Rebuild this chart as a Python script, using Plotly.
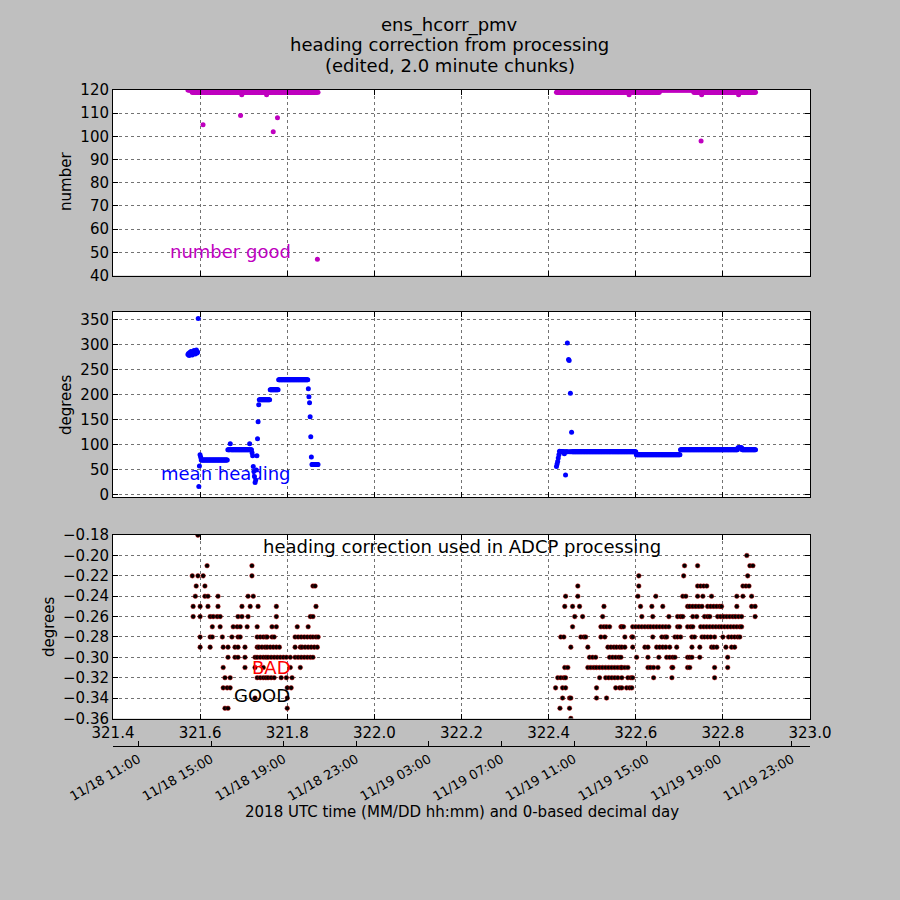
import numpy as np
import plotly.graph_objects as go

# ------------------------------------------------------------------
# data (0-based decimal day), 2-minute chunks
chunk_days = 2.0 / 1440.0
seg_start = [321.572, 322.418]

# number good per chunk, run-length: value or (value, count)
ngood_runs = [
    [(120, 7), (119, 18), 105, (119, 61), 109, 119, 118, (119, 40), 118,
     (119, 10), 102, (119, 6), 108, (119, 65), 47, 119],
    [(119, 120), 118, (119, 50), (120, 56), (119, 12), 98, 118, (119, 60),
     118, (119, 28)],
]

# mean heading per chunk (degrees), run-length
heading_runs = [
    [280, 282, 278, 284, 281, 286, 283, 279, 285, 282, 288, 284, 281, 286,
     289, 283, 285, 352, 17, 58, 80, 76, (70, 44), (90, 4), 102, (90, 31),
     102, (90, 3), 84, 78, 57, 47, 37, 25, 30, 50, 78, 112, 146, 180,
     (190, 18), (210, 14), (230, 49), 212, 196, 184, 156, 116, 76, (61, 11)],
    [57, 62, 67, 74, 80, 87, (86, 7), 82, 86, 40, 86, 86, 303, 86, 270, 268,
     86, 203, 86, 125, (86, 106), (80, 73), (90, 95), (94, 7), (90, 23)],
]

# heading correction: each level with the days where it was used
corr_levels = [-0.18, -0.20, -0.21, -0.22, -0.23, -0.24, -0.25, -0.26, -0.27,
               -0.28, -0.29, -0.30, -0.31, -0.32, -0.33, -0.34, -0.35, -0.36]
corr_days = [
    [321.595],
    [322.855],
    [321.616, 321.719, 322.712, 322.742, 322.862, 322.869],
    [321.582, 321.595, 321.607, 321.719, 322.607, 322.710, 322.857],
    [321.591, 321.611, 321.859, 321.864, 322.467, 322.607, 322.742, 322.749,
     322.756, 322.763, 322.846, 322.853, 322.860],
    [321.589, 321.611, 321.618, 321.641, 321.710, 321.722, 322.439, 322.467,
     322.605, 322.646, 322.708, 322.715, 322.742, 322.754, 322.774, 322.832,
     322.846, 322.866],
    [321.584, 321.600, 321.618, 321.641, 321.696, 321.715, 321.733, 321.775,
     321.866, 322.437, 322.455, 322.471, 322.527, 322.611, 322.637, 322.662,
     322.719, 322.724, 322.731, 322.738, 322.745, 322.752, 322.765, 322.772,
     322.779, 322.786, 322.793, 322.797, 322.832, 322.866, 322.874],
    [321.584, 321.600, 321.623, 321.630, 321.639, 321.646, 321.687, 321.696,
     321.710, 321.775, 321.853, 321.859, 322.460, 322.478, 322.524, 322.614,
     322.639, 322.676, 322.696, 322.703, 322.708, 322.731, 322.740, 322.758,
     322.765, 322.770, 322.788, 322.795, 322.802, 322.809, 322.816, 322.823,
     322.829, 322.836, 322.843, 322.874],
    [321.628, 321.646, 321.676, 321.685, 321.692, 321.708, 321.731, 321.765,
     321.775, 321.823, 321.848, 322.455, 322.520, 322.527, 322.533, 322.540,
     322.566, 322.568, 322.572, 322.593, 322.600, 322.607, 322.614, 322.621,
     322.628, 322.634, 322.641, 322.648, 322.655, 322.662, 322.669, 322.676,
     322.696, 322.701, 322.719, 322.726, 322.731, 322.749, 322.756, 322.763,
     322.770, 322.777, 322.784, 322.791, 322.797, 322.804, 322.811, 322.818,
     322.825, 322.832, 322.839, 322.843],
    [321.600, 321.623, 321.628, 321.651, 321.673, 321.687, 321.692, 321.731,
     321.738, 321.745, 321.751, 321.754, 321.765, 321.770, 321.818, 321.825,
     321.832, 321.839, 321.846, 321.853, 321.859, 321.866, 321.871, 322.428,
     322.435, 322.474, 322.481, 322.485, 322.520, 322.529, 322.575, 322.591,
     322.593, 322.639, 322.660, 322.667, 322.671, 322.690, 322.696, 322.703,
     322.729, 322.735, 322.752, 322.758, 322.765, 322.772, 322.781, 322.800,
     322.813, 322.820, 322.827, 322.834, 322.839],
    [321.600, 321.623, 321.653, 321.664, 321.680, 321.687, 321.703, 321.731,
     321.735, 321.742, 321.749, 321.754, 321.761, 321.768, 321.775, 321.782,
     321.818, 321.830, 321.834, 321.841, 321.848, 321.855, 321.862, 321.869,
     322.451, 322.490, 322.536, 322.543, 322.550, 322.556, 322.563, 322.568,
     322.575, 322.593, 322.621, 322.628, 322.648, 322.655, 322.662, 322.669,
     322.678, 322.694, 322.729, 322.747, 322.774, 322.779, 322.786, 322.807,
     322.820, 322.827],
    [321.664, 321.680, 321.687, 321.703, 321.726, 321.731, 321.738, 321.745,
     321.751, 321.756, 321.763, 321.770, 321.777, 321.784, 321.791, 321.798,
     321.807, 321.818, 321.825, 321.832, 321.839, 321.846, 321.853, 321.859,
     322.494, 322.501, 322.508, 322.540, 322.547, 322.554, 322.561, 322.566,
     322.602, 322.628, 322.653, 322.671, 322.678, 322.685, 322.690, 322.719,
     322.724, 322.729, 322.747, 322.811],
    [321.653, 321.703, 321.726, 321.745, 321.807, 321.830, 322.437, 322.444,
     322.490, 322.497, 322.504, 322.510, 322.517, 322.524, 322.531, 322.538,
     322.545, 322.552, 322.559, 322.566, 322.568, 322.575, 322.582, 322.628,
     322.634, 322.641, 322.651, 322.683, 322.685, 322.719, 322.724, 322.781,
     322.811],
    [321.657, 321.669, 321.731, 321.738, 321.745, 321.751, 321.756, 321.763,
     321.770, 321.786, 321.798, 321.811, 322.421, 322.428, 322.435, 322.439,
     322.517, 322.531, 322.538, 322.545, 322.552, 322.559, 322.568, 322.582,
     322.589, 322.593, 322.641, 322.683, 322.781],
    [321.653, 321.662, 321.669, 321.800, 321.809, 322.416, 322.432, 322.439,
     322.510, 322.554, 322.563, 322.568, 322.579, 322.586, 322.591],
    [321.726, 321.800, 322.432, 322.448, 322.451, 322.510, 322.533],
    [321.657, 321.664, 321.800, 322.426, 322.448],
    [322.451],
]

date_days = [321.4583, 321.625, 321.7917, 321.9583, 322.125, 322.2917,
             322.4583, 322.625, 322.7917, 322.9583]
date_labels = ["11/18 11:00", "11/18 15:00", "11/18 19:00", "11/18 23:00",
               "11/19 03:00", "11/19 07:00", "11/19 11:00", "11/19 15:00",
               "11/19 19:00", "11/19 23:00"]
# ------------------------------------------------------------------


def expand(runs):
    out = []
    for r in runs:
        if isinstance(r, tuple):
            out += [r[0]] * r[1]
        else:
            out.append(r)
    return out


t, ngood, heading = [], [], []
for s, ngr, hdr in zip(seg_start, ngood_runs, heading_runs):
    a = expand(ngr)
    b = expand(hdr)
    t += list(s + np.arange(len(a)) * chunk_days)
    ngood += a
    heading += b

cx, cy = [], []
for lev, days in zip(corr_levels, corr_days):
    cx += days
    cy += [lev] * len(days)

FONT = "DejaVu Sans"
fig = go.Figure()
fig.add_trace(go.Scatter(x=t, y=ngood, mode="markers", xaxis="x", yaxis="y",
                         marker=dict(color="#bf00bf", size=5)))
fig.add_trace(go.Scatter(x=t, y=heading, mode="markers", xaxis="x2", yaxis="y2",
                         marker=dict(color="#0000ff", size=5)))
fig.add_trace(go.Scatter(x=cx, y=cy, mode="markers", xaxis="x3", yaxis="y3",
                         marker=dict(color="black", size=4.6,
                                     line=dict(color="rgba(200,0,0,0.8)", width=0.6))))
fig.add_trace(go.Scatter(x=date_days, y=[None] * len(date_days), mode="markers",
                         xaxis="x4", yaxis="y3", hoverinfo="skip"))

grid = dict(showgrid=True, gridcolor="rgba(0,0,0,0.55)", griddash="dot",
            gridwidth=1, showline=True, linecolor="black", linewidth=1,
            mirror="ticks", ticks="inside", ticklen=5, tickcolor="black",
            zeroline=False, tickfont=dict(family=FONT, size=15, color="black"))
xcommon = dict(grid, range=[321.4, 323.0], tick0=321.4, dtick=0.2)

fig.update_layout(
    width=900, height=900, showlegend=False,
    paper_bgcolor="#bfbfbf", plot_bgcolor="white",
    margin=dict(l=113, r=90, t=90, b=154),
    font=dict(family=FONT, color="black"),
    xaxis=dict(xcommon, anchor="y", showticklabels=False),
    xaxis2=dict(xcommon, anchor="y2", showticklabels=False),
    xaxis3=dict(xcommon, anchor="y3", tickformat=".1f"),
    xaxis4=dict(range=[321.4, 323.0], overlaying="x3", anchor="free", position=0,
                side="bottom", showgrid=False, zeroline=False, showline=True,
                linecolor="black", linewidth=1, ticks="inside", ticklen=5,
                tickcolor="black", tickvals=date_days, ticktext=date_labels,
                tickangle=-30, tickfont=dict(family=FONT, size=13, color="black")),
    yaxis=dict(grid, anchor="x", domain=[0.7172, 1.0], range=[40, 120.01],
               tick0=40, dtick=10),
    yaxis2=dict(grid, anchor="x2", domain=[0.3796, 0.6616], range=[-4, 365],
                tick0=0, dtick=50),
    yaxis3=dict(grid, anchor="x3", domain=[0.0419, 0.3216],
                range=[-0.3601, -0.1799], tick0=-0.36, dtick=0.02,
                tickformat=".2f"),
)

ann = [
    dict(text="ens_hcorr_pmv", x=0.4835, y=1.099),
    dict(text="heading correction from processing", x=0.4835, y=1.0686),
    dict(text="(edited, 2.0 minute chunks)", x=0.4835, y=1.0366),
]
for a in ann:
    fig.add_annotation(xref="paper", yref="paper", showarrow=False,
                       xanchor="center", yanchor="middle",
                       font=dict(family=FONT, size=18, color="black"), **a)

for txt, xp, yp in [("number", -0.0674, 0.8598), ("degrees", -0.0674, 0.5198),
                    ("degrees", -0.0918, 0.1814)]:
    fig.add_annotation(text=txt, xref="paper", yref="paper", x=xp, y=yp,
                       textangle=-90, showarrow=False, xanchor="center",
                       yanchor="middle",
                       font=dict(family=FONT, size=15, color="black"))

fig.add_annotation(text="2018 UTC time (MM/DD hh:mm) and 0-based decimal day",
                   xref="paper", yref="paper", x=0.5, y=-0.1006,
                   showarrow=False, xanchor="center", yanchor="middle",
                   font=dict(family=FONT, size=15, color="black"))

fig.add_annotation(text="number good", xref="x", yref="y", x=321.526, y=50.5,
                   showarrow=False, xanchor="left", yanchor="middle",
                   font=dict(family=FONT, size=18, color="#bf00bf"))
fig.add_annotation(text="mean heading", xref="x2", yref="y2", x=321.506, y=43,
                   showarrow=False, xanchor="left", yanchor="middle",
                   font=dict(family=FONT, size=18, color="#0000ff"))
fig.add_annotation(text="heading correction used in ADCP processing",
                   xref="x3", yref="y3", x=322.201, y=-0.1908,
                   showarrow=False, xanchor="center", yanchor="middle",
                   font=dict(family=FONT, size=18, color="black"))
fig.add_annotation(text="BAD", xref="x3", yref="y3", x=321.7145, y=-0.3098,
                   showarrow=False, xanchor="left", yanchor="middle",
                   font=dict(family=FONT, size=18, color="#ff0000"))
fig.add_annotation(text="GOOD", xref="x3", yref="y3", x=321.673, y=-0.3373,
                   showarrow=False, xanchor="left", yanchor="middle",
                   font=dict(family=FONT, size=18, color="black"))

# the page body has a default 8px margin; drop it so the figure fills the window
fig.write_html("out.html", config={"displayModeBar": False},
               post_script="document.body.style.margin='0px';")
